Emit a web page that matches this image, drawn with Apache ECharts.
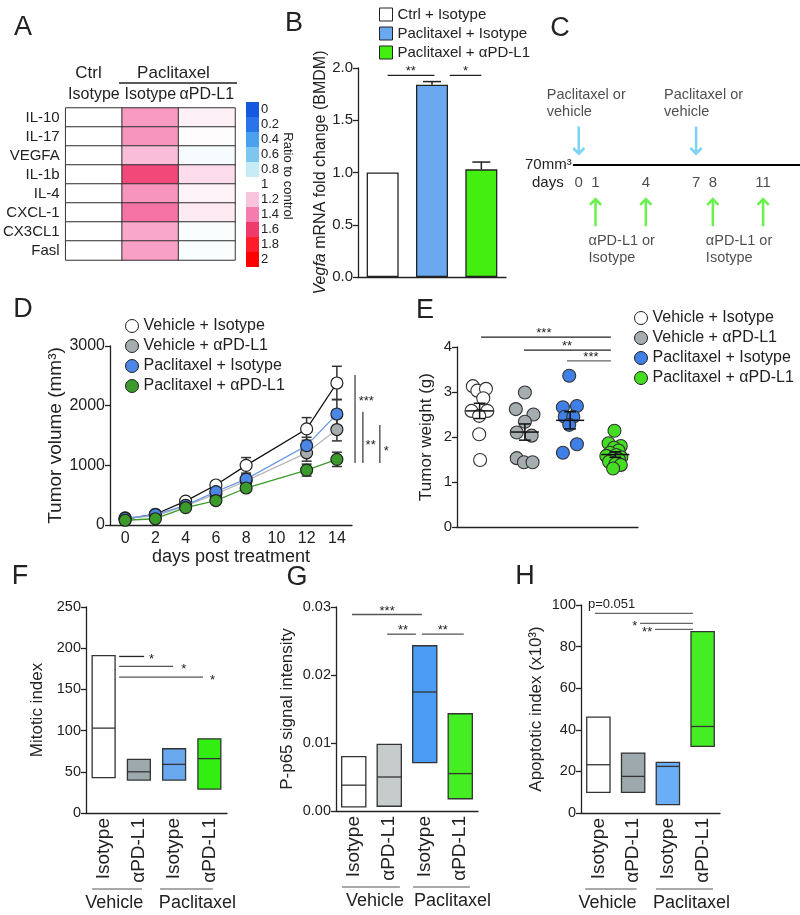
<!DOCTYPE html>
<html><head><meta charset="utf-8">
<script src="https://cdn.jsdelivr.net/npm/echarts@6/dist/echarts.min.js"></script>
<style>html,body{margin:0;padding:0;background:#fff}#c{width:800px;height:915px}</style>
</head><body><div id="c"></div>
<script>
// ================= DATA =================
// A: heatmap (ratio to control)
const heatCols = ['Ctrl + Isotype', 'Paclitaxel + Isotype', 'Paclitaxel + αPD-L1'];
const heatRows = ['IL-10', 'IL-17', 'VEGFA', 'IL-1b', 'IL-4', 'CXCL-1', 'CX3CL1', 'Fasl'];
const heatCtrlIso = [1, 1, 1, 1, 1, 1, 1, 1];
const heatPacIso = [1.32, 1.33, 1.22, 1.56, 1.33, 1.43, 1.28, 1.30];
const heatPacPD = [1.05, 1.01, 0.97, 1.12, 1.04, 1.07, 0.98, 0.98];
const ratioTicks = ['0', '0.2', '0.4', '0.6', '0.8', '1', '1.2', '1.4', '1.6', '1.8', '2'];
// B: Vegfa mRNA fold change
const bGroups = ['Ctrl + Isotype', 'Paclitaxel + Isotype', 'Paclitaxel + αPD-L1'];
const bMean = [1.00, 1.84, 1.03];
const bErr = [0, 0.03, 0.07];
// C: schedule
const treatDays = [0, 7];
const antibodyDays = [1, 4, 8, 11];
const antibodyLabelDays = [1, 8];
const dayTicks = [0, 1, 4, 7, 8, 11];
const timelineSpan = [-0.35, 13.2];
// D: tumor volume
const groupNames = ['Vehicle + Isotype', 'Vehicle + αPD-L1', 'Paclitaxel + Isotype', 'Paclitaxel + αPD-L1'];
const dDays = ['0', '2', '4', '6', '8', '10', '12', '14'];
const dVehIso = [100, 180, 400, 670, 1000, null, 1610, 2380];
const dVehIsoErr = [15, 20, 25, 40, 130, null, 190, 280];
const dVehPD = [120, 150, 320, 520, 740, null, 1210, 1600];
const dVehPDErr = [15, 20, 25, 35, 60, null, 140, 190];
const dPacIso = [110, 175, 330, 560, 770, null, 1330, 1860];
const dPacIsoErr = [15, 20, 25, 40, 70, null, 140, 245];
const dPacPD = [80, 105, 290, 410, 620, null, 920, 1100];
const dPacPDErr = [10, 15, 25, 35, 50, null, 100, 120];
// E: tumor weight, [x position in group slot, weight g]
const eVehIso = [[0.35,3.13],[0.45,3.03],[0.64,3.07],[0.58,2.86],[0.32,2.58],[0.67,2.58],[0.49,2.47],[0.49,2.06],[0.51,1.49]];
const eVehPD = [[1.50,2.99],[1.30,2.62],[1.69,2.50],[1.50,2.34],[1.32,2.10],[1.65,2.03],[1.32,1.53],[1.48,1.44],[1.67,1.44]];
const ePacIso = [[2.48,3.36],[2.34,2.66],[2.65,2.69],[2.38,2.45],[2.57,2.45],[2.48,2.27],[2.65,1.84],[2.34,1.65]];
const ePacPD = [[3.48,2.14],[3.35,1.86],[3.62,1.80],[3.47,1.76],[3.57,1.70],[3.38,1.65],[3.52,1.60],[3.30,1.58],[3.63,1.55],[3.45,1.52],[3.58,1.50],[3.36,1.45],[3.50,1.40],[3.62,1.38],[3.45,1.30]];
const eMean = [2.58, 2.11, 2.37, 1.61];
const eSem = [0.17, 0.18, 0.19, 0.06];
// F, G, H: floating bars (min, median, max)
const boxCats = ['Vehicle + Isotype', 'Vehicle + αPD-L1', 'Paclitaxel + Isotype', 'Paclitaxel + αPD-L1'];
const fMin = [43, 40, 40, 29], fMed = [103, 50, 59, 66], fMax = [191, 65, 78, 90];
const gMin = [0.0006, 0.0007, 0.0071, 0.0018], gMed = [0.0038, 0.0050, 0.0175, 0.0055], gMax = [0.0080, 0.0098, 0.0243, 0.0143];
const hMin = [9.9, 9.9, 4.0, 32], hMed = [23.2, 17.6, 22.4, 41.6], hMax = [46.1, 28.8, 24.3, 87.2];
// significance annotations (data units of each panel)
const sigH = [
  {g:1, x1:0.10, x2:1.05, y:1.93, t:'**', tx:0.57, pos:'above'},
  {g:1, x1:1.36, x2:2.00, y:1.93, t:'*', tx:1.68, pos:'above'},
  {g:4, x1:0.53, x2:3.40, y:4.22, t:'***', tx:1.92, pos:'above'},
  {g:4, x1:1.48, x2:3.40, y:3.93, t:'**', tx:2.43, pos:'above'},
  {g:4, x1:2.43, x2:3.40, y:3.69, t:'***', tx:2.96, pos:'above', c:'#666'},
  {g:5, x1:0.44, x2:1.15, y:190, t:'*', tx:1.29, pos:'right'},
  {g:5, x1:0.44, x2:1.97, y:178, t:'*', tx:2.20, pos:'right', c:'#555'},
  {g:5, x1:0.44, x2:2.82, y:165, t:'*', tx:3.02, pos:'right', c:'#555'},
  {g:6, x1:-0.05, x2:1.92, y:0.0289, t:'***', tx:0.94, pos:'above', c:'#555'},
  {g:6, x1:0.94, x2:1.75, y:0.0260, t:'**', tx:1.39, pos:'above', c:'#555'},
  {g:6, x1:1.92, x2:3.10, y:0.0260, t:'**', tx:2.51, pos:'above', c:'#555'},
  {g:7, x1:-0.10, x2:2.72, y:96, t:'p=0.051', tx:-0.30, pos:'aboveLeft', c:'#666'},
  {g:7, x1:1.20, x2:2.72, y:91.2, t:'*', tx:1.12, pos:'left', c:'#666'},
  {g:7, x1:1.63, x2:2.72, y:88.3, t:'**', tx:1.55, pos:'left', c:'#666'}
];
const sigV = [
  {g:3, x:7.60, y1:1039, y2:2514, t:'***', tx:7.72, ty:2128},
  {g:3, x:7.86, y1:1039, y2:1899, t:'**', tx:7.95, ty:1391},
  {g:3, x:8.42, y1:1039, y2:1676, t:'*', tx:8.55, ty:1290}
];

// ================= STYLE =================
const FONT = '"Liberation Sans", Arial, Helvetica, sans-serif';
const INK = '#222';
const cbColors = ['#1458e0','#2a74ea','#4aa2ee','#7cc6f0','#c6ecf8','#ffffff','#fbc4de','#f57cae','#f03a6c','#ff1c2a','#ff0000'];
const bColors = ['#ffffff', '#6aa8f0', '#44ee11'];
const dFill = ['#ffffff', '#a6adb1', '#4d87e6', '#3a9b2a'];
const dLine = ['#111111', '#b8b8b8', '#6f9de8', '#3a9b2a'];
const eFill = ['#ffffff', '#a6adb1', '#3f7fe6', '#44dd22'];
const fCol = ['#ffffff', '#9ea9ae', '#6aa8f0', '#33ee11'];
const gCol = ['#ffffff', '#c6cbcb', '#4b9cf5', '#44ee22'];
const hCol = ['#ffffff', '#9ea9ae', '#6aaef5', '#44ee22'];
const arrowPath = 'path://M4.8,0 L7.2,0 L7.2,22.6 L10.5,19.3 L12.2,21 L6,27.2 L-0.2,21 L1.5,19.3 L4.8,22.6 Z';

const chart = echarts.init(document.getElementById('c'), null, {renderer: 'canvas', width: 800, height: 915});
const plain = v => String(v);

function valAxis(gi, min, max, interval, extra) {
  return Object.assign({
    type: 'value', gridIndex: gi, min: min, max: max, interval: interval,
    axisLine: {show: true, lineStyle: {color: INK, width: 1.3}},
    axisTick: {show: true, length: 5, lineStyle: {color: INK, width: 1.3}},
    axisLabel: {color: INK, fontFamily: FONT, fontSize: 15, margin: 5, formatter: plain},
    splitLine: {show: false},
    nameLocation: 'middle', nameRotate: 90,
    nameTextStyle: {color: INK, fontFamily: FONT, fontSize: 17}
  }, extra || {});
}
function boxCatAxis(gi) {
  return {
    type: 'category', gridIndex: gi, data: boxCats,
    axisLine: {lineStyle: {color: INK, width: 1.3}},
    axisTick: {show: false},
    axisLabel: {rotate: 90, fontSize: 19, color: INK, fontFamily: FONT, margin: 5, interval: 0,
      formatter: v => v.split(' + ')[1]}
  };
}
function boxRender(colors, frac) {
  return function (params, api) {
    const i = api.value(0);
    const lo = api.coord([i, api.value(1)]);
    const md = api.coord([i, api.value(2)]);
    const hi = api.coord([i, api.value(3)]);
    const w = api.size([1, 0])[0] * frac;
    return {type: 'group', children: [
      {type: 'rect', shape: {x: lo[0] - w / 2, y: hi[1], width: w, height: lo[1] - hi[1]},
        style: {fill: colors[i], stroke: '#333', lineWidth: 1.3}},
      {type: 'line', shape: {x1: lo[0] - w / 2, y1: md[1], x2: lo[0] + w / 2, y2: md[1]},
        style: {stroke: '#333', lineWidth: 1.3}}
    ]};
  };
}
function boxData(mn, md, mx) { return mn.map((v, i) => [i, v, md[i], mx[i]]); }

// heatmap data
const heatData = [];
[heatCtrlIso, heatPacIso, heatPacPD].forEach((col, ci) => col.forEach((v, ri) => heatData.push([ci, ri, v])));

// D error data
const dSeriesVals = [dVehIso, dVehPD, dPacIso, dPacPD];
const dSeriesErr = [dVehIsoErr, dVehPDErr, dPacIsoErr, dPacPDErr];
const dErrData = [];
dSeriesVals.forEach((arr, s) => arr.forEach((v, i) => { if (v != null) dErrData.push([i, v, dSeriesErr[s][i]]); }));

const series = [];
// 0 heatmap
series.push({type: 'heatmap', xAxisIndex: 0, yAxisIndex: 0, data: heatData,
  itemStyle: {borderColor: '#333', borderWidth: 1}, emphasis: {disabled: true}, silent: true});
// 1 dummy for color legend
series.push({type: 'scatter', xAxisIndex: 0, yAxisIndex: 0, data: [], silent: true});
// B bars
bGroups.forEach((g, i) => series.push({
  type: 'bar', name: g, xAxisIndex: 1, yAxisIndex: 1, barWidth: 32, barGap: '-100%',
  data: bGroups.map((_, j) => j === i ? bMean[i] : '-'),
  itemStyle: {color: bColors[i], borderColor: INK, borderWidth: 1.3}, silent: true
}));
// B error bars
series.push({type: 'custom', xAxisIndex: 1, yAxisIndex: 1, silent: true, z: 3,
  data: bMean.map((m, i) => [i, m, bErr[i]]).filter(d => d[2] > 0),
  renderItem: (p, api) => {
    const x = api.value(0), m = api.value(1), e = api.value(2);
    const a = api.coord([x, m]), b = api.coord([x, m + e]);
    return {type: 'group', children: [
      {type: 'line', shape: {x1: a[0], y1: a[1], x2: b[0], y2: b[1]}, style: {stroke: INK, lineWidth: 1.5}},
      {type: 'line', shape: {x1: b[0] - 9, y1: b[1], x2: b[0] + 9, y2: b[1]}, style: {stroke: INK, lineWidth: 1.5}}
    ]};
  }});
// C timeline
series.push({type: 'line', xAxisIndex: 2, yAxisIndex: 2, silent: true, symbol: 'none',
  data: timelineSpan.map(d => [d, 0]), lineStyle: {color: '#000', width: 2.2}});
series.push({type: 'scatter', xAxisIndex: 2, yAxisIndex: 2, silent: true,
  data: treatDays.map(d => [d, 0.4]), symbol: arrowPath, symbolSize: [13, 29],
  itemStyle: {color: '#5bc8f0'},
  label: {show: true, position: 'top', distance: 6, align: 'left', offset: [-32, 0],
    formatter: 'Paclitaxel or\nvehicle', fontSize: 14.5, lineHeight: 17, color: INK, fontFamily: FONT}});
series.push({type: 'scatter', xAxisIndex: 2, yAxisIndex: 2, silent: true,
  data: antibodyDays.map(d => ({value: [d, -0.78], label: {show: antibodyLabelDays.indexOf(d) >= 0}})),
  symbol: arrowPath, symbolSize: [13, 29], symbolRotate: 180,
  itemStyle: {color: '#44ee22'},
  label: {position: 'bottom', distance: 6, align: 'left', offset: [-7, 0],
    formatter: 'αPD-L1 or\nIsotype', fontSize: 14.5, lineHeight: 17, color: INK, fontFamily: FONT}});
series.push({type: 'scatter', xAxisIndex: 2, yAxisIndex: 2, silent: true,
  data: dayTicks.map(d => [d, -0.3]), symbolSize: 1, itemStyle: {color: 'rgba(0,0,0,0)'},
  label: {show: true, position: 'inside', formatter: p => String(p.value[0]), fontSize: 15, color: INK, fontFamily: FONT}});
// D lines
dSeriesVals.forEach((arr, s) => series.push({
  type: 'line', name: groupNames[s], xAxisIndex: 3, yAxisIndex: 3, data: arr, connectNulls: true,
  symbol: 'circle', symbolSize: 12, z: 3 + s, silent: true,
  lineStyle: {color: dLine[s], width: 1.3},
  itemStyle: {color: dFill[s], borderColor: INK, borderWidth: 1.2}
}));
// D error bars
series.push({type: 'custom', xAxisIndex: 3, yAxisIndex: 3, silent: true, z: 2, data: dErrData,
  renderItem: (p, api) => {
    const x = api.value(0), m = api.value(1), e = api.value(2);
    const t = api.coord([x, m + e]), b = api.coord([x, m - e]);
    const cw = 5, st = {stroke: '#333', lineWidth: 1.5};
    return {type: 'group', children: [
      {type: 'line', shape: {x1: t[0], y1: t[1], x2: b[0], y2: b[1]}, style: st},
      {type: 'line', shape: {x1: t[0] - cw, y1: t[1], x2: t[0] + cw, y2: t[1]}, style: st},
      {type: 'line', shape: {x1: b[0] - cw, y1: b[1], x2: b[0] + cw, y2: b[1]}, style: st}
    ]};
  }});
// E scatter
[eVehIso, eVehPD, ePacIso, ePacPD].forEach((arr, s) => series.push({
  type: 'scatter', name: groupNames[s], xAxisIndex: 4, yAxisIndex: 4, data: arr, silent: true,
  symbolSize: 13, itemStyle: {color: eFill[s], borderColor: '#333', borderWidth: 1.1, opacity: 1}
}));
series.push({type: 'custom', xAxisIndex: 4, yAxisIndex: 4, silent: true, z: 10,
  data: eMean.map((m, i) => [i + 0.5, m, eSem[i]]),
  renderItem: (p, api) => {
    const x = api.value(0), m = api.value(1), e = api.value(2);
    const c = api.coord([x, m]), t = api.coord([x, m + e]), b = api.coord([x, m - e]);
    const hw = api.size([0.31, 0])[0], cw = api.size([0.13, 0])[0];
    const st = {stroke: '#111', lineWidth: 1.5};
    return {type: 'group', children: [
      {type: 'line', shape: {x1: c[0] - hw, y1: c[1], x2: c[0] + hw, y2: c[1]}, style: st},
      {type: 'line', shape: {x1: t[0], y1: t[1], x2: b[0], y2: b[1]}, style: st},
      {type: 'line', shape: {x1: t[0] - cw, y1: t[1], x2: t[0] + cw, y2: t[1]}, style: st},
      {type: 'line', shape: {x1: b[0] - cw, y1: b[1], x2: b[0] + cw, y2: b[1]}, style: st}
    ]};
  }});
// F, G, H boxes
series.push({type: 'custom', xAxisIndex: 5, yAxisIndex: 5, silent: true, data: boxData(fMin, fMed, fMax), renderItem: boxRender(fCol, 0.65)});
series.push({type: 'custom', xAxisIndex: 6, yAxisIndex: 6, silent: true, data: boxData(gMin, gMed, gMax), renderItem: boxRender(gCol, 0.68)});
series.push({type: 'custom', xAxisIndex: 7, yAxisIndex: 7, silent: true, data: boxData(hMin, hMed, hMax), renderItem: boxRender(hCol, 0.67)});

const legendText = {color: INK, fontFamily: FONT, fontSize: 16};
const option = {
  animation: false,
  backgroundColor: '#ffffff',
  textStyle: {fontFamily: FONT},
  grid: [
    {left: 60, top: 108, width: 175, height: 152},
    {left: 358, top: 68, width: 148, height: 209},
    {left: 528.5, top: 105, width: 272.5, height: 120},
    {left: 110, top: 346, width: 242, height: 179},
    {left: 457, top: 347, width: 181, height: 180},
    {left: 86, top: 607, width: 141, height: 206},
    {left: 336, top: 607, width: 142, height: 204},
    {left: 581, top: 605, width: 139, height: 208}
  ],
  xAxis: [
    {type: 'category', gridIndex: 0, data: heatCols, position: 'top', axisLine: {show: false}, axisTick: {show: false},
      axisLabel: {color: INK, fontFamily: FONT, fontSize: 16, margin: 5, interval: 0, formatter: v => v.split(' + ')[1]}},
    {type: 'category', gridIndex: 1, data: bGroups, axisLine: {lineStyle: {color: INK, width: 1.3}}, axisTick: {show: false}, axisLabel: {show: false}},
    {type: 'value', gridIndex: 2, min: -3, max: 13.2, show: false},
    {type: 'category', gridIndex: 3, data: dDays, boundaryGap: true,
      axisLine: {lineStyle: {color: INK, width: 1.3}},
      axisTick: {alignWithLabel: true, interval: 0, length: 5, lineStyle: {color: INK, width: 1.3}},
      axisLabel: {color: INK, fontFamily: FONT, fontSize: 16, margin: 6, interval: 0},
      name: 'days post treatment', nameLocation: 'middle', nameGap: 22,
      nameTextStyle: {color: INK, fontFamily: FONT, fontSize: 18}},
    {type: 'value', gridIndex: 4, min: 0, max: 4, axisLine: {lineStyle: {color: INK, width: 1.3}}, axisTick: {show: false}, axisLabel: {show: false}, splitLine: {show: false}},
    boxCatAxis(5), boxCatAxis(6), boxCatAxis(7)
  ],
  yAxis: [
    {type: 'category', gridIndex: 0, data: heatRows, inverse: true, axisLine: {show: false}, axisTick: {show: false},
      axisLabel: {color: INK, fontFamily: FONT, fontSize: 15, margin: 6, interval: 0}},
    valAxis(1, 0, 2, 0.5, {axisLabel: {color: INK, fontFamily: FONT, fontSize: 15, margin: 5, formatter: v => v.toFixed(1)},
      name: '{i|Vegfa} mRNA fold change (BMDM)', nameGap: 14,
      nameTextStyle: {color: INK, fontFamily: FONT, fontSize: 16, rich: {i: {fontStyle: 'italic', fontSize: 16, fontFamily: FONT, color: INK}}}}),
    {type: 'value', gridIndex: 2, min: -1, max: 1, show: false},
    valAxis(3, 0, 3000, 1000, {axisLabel: {color: INK, fontFamily: FONT, fontSize: 16, margin: 5, formatter: plain}, name: 'Tumor volume (mm³)', nameGap: 44,
      nameTextStyle: {color: INK, fontFamily: FONT, fontSize: 19}}),
    valAxis(4, 0, 4, 1, {name: 'Tumor weight (g)', nameGap: 22}),
    valAxis(5, 0, 250, 50, {axisLabel: {color: INK, fontFamily: FONT, fontSize: 14.5, margin: 5, formatter: plain}, name: 'Mitotic index', nameGap: 40}),
    valAxis(6, 0, 0.03, 0.01, {axisLabel: {color: INK, fontFamily: FONT, fontSize: 14.5, margin: 5, formatter: v => v.toFixed(2)}, name: 'P-p65 signal intensity', nameGap: 40}),
    valAxis(7, 0, 100, 20, {axisLabel: {color: INK, fontFamily: FONT, fontSize: 14.5, margin: 5, formatter: plain}, name: 'Apoptotic index (x10³)', nameGap: 36})
  ],
  visualMap: [
    {type: 'continuous', show: false, seriesIndex: 0, dimension: 2, min: 0, max: 2, inRange: {color: cbColors}},
    {type: 'piecewise', seriesIndex: 1, orient: 'vertical', inverse: true, left: 246, top: 102, padding: 0,
      itemWidth: 13, itemHeight: 15, itemGap: 0, textGap: 2, itemSymbol: 'rect', selectedMode: false,
      textStyle: {color: INK, fontFamily: FONT, fontSize: 13},
      pieces: ratioTicks.map((t, i) => ({min: i * 0.2 - 0.1, max: i * 0.2 + 0.0999, label: t, color: cbColors[i]}))}
  ],
  legend: [
    {data: bGroups.map((g, i) => ({name: g, itemStyle: {color: bColors[i], borderColor: INK, borderWidth: 1}})),
      left: 374, top: 2, orient: 'vertical', itemWidth: 13, itemHeight: 13, itemGap: 4, icon: 'rect',
      selectedMode: false, textStyle: {color: INK, fontFamily: FONT, fontSize: 15}},
    {data: groupNames.map((g, i) => ({name: g, itemStyle: {color: dFill[i], borderColor: INK, borderWidth: 1}})),
      left: 120, top: 313, orient: 'vertical', itemWidth: 13, itemHeight: 13, itemGap: 4, icon: 'circle',
      selectedMode: false, textStyle: legendText},
    {data: groupNames.map((g, i) => ({name: g, itemStyle: {color: eFill[i], borderColor: INK, borderWidth: 1}})),
      left: 629, top: 305, orient: 'vertical', itemWidth: 13, itemHeight: 13, itemGap: 4, icon: 'circle',
      selectedMode: false, textStyle: legendText}
  ],
  series: series
};
chart.setOption(option);

// ================= ANNOTATIONS (positioned through the axes) =================
function P(g, x, y) {
  const x0 = Math.floor(x), f = x - x0;
  const a = chart.convertToPixel({gridIndex: g}, [x0, y]);
  if (f === 0) return a;
  const b = chart.convertToPixel({gridIndex: g}, [x0 + 1, y]);
  return [a[0] + (b[0] - a[0]) * f, a[1]];
}
const G = [];
function txt(x, y, s, o) {
  G.push({type: 'text', x: x, y: y, silent: true, style: Object.assign({text: s, fill: INK, font: '15px ' + FONT, textAlign: 'center', textVerticalAlign: 'middle'}, o || {})});
}
function ln(x1, y1, x2, y2, c, w) {
  G.push({type: 'line', silent: true, shape: {x1: x1, y1: y1, x2: x2, y2: y2}, style: {stroke: c || INK, lineWidth: w || 1.3}});
}
// panel letters
[['A', 23, 28], ['B', 294, 24], ['C', 560, 29], ['D', 23, 310], ['E', 425, 311], ['F', 20, 577], ['G', 297, 578], ['H', 525, 577]]
  .forEach(l => txt(l[1], l[2], l[0], {font: '27px ' + FONT}));
// A headers
txt(88.5, 73, 'Ctrl', {font: '17px ' + FONT});
txt(173.5, 73, 'Paclitaxel', {font: '17px ' + FONT});
ln(119, 83, 237, 83, INK, 1.3);
G.push({type: 'text', x: 288, y: 176, rotation: -Math.PI / 2, silent: true,
  style: {text: 'Ratio to control', fill: INK, font: '13px ' + FONT, textAlign: 'center', textVerticalAlign: 'middle'}});
// C labels
txt(525, 165, '70mm³', {textAlign: 'left', font: '15px ' + FONT});
txt(532, 183, 'days', {textAlign: 'left', font: '15px ' + FONT});
// horizontal significance bars
sigH.forEach(s => {
  const a = P(s.g, s.x1, s.y), b = P(s.g, s.x2, s.y), t = P(s.g, s.tx, s.y);
  const c = s.c || INK;
  ln(a[0], a[1], b[0], b[1], c, 1.3);
  if (s.pos === 'above') txt(t[0], a[1] + 3, s.t, {font: '13px ' + FONT, textVerticalAlign: 'bottom'});
  else if (s.pos === 'right') txt(t[0], a[1] + 3, s.t, {font: '13px ' + FONT, textAlign: 'left'});
  else if (s.pos === 'left') txt(t[0], a[1] + 3, s.t, {font: '13px ' + FONT, textAlign: 'right'});
  else txt(t[0], a[1] - 2, s.t, {font: '13px ' + FONT, textAlign: 'left', textVerticalAlign: 'bottom'});
});
// vertical significance bars (D)
sigV.forEach(s => {
  const a = P(s.g, s.x, s.y1), b = P(s.g, s.x, s.y2), t = P(s.g, s.tx, s.ty);
  ln(a[0], a[1], b[0], b[1], '#444', 1.3);
  txt(t[0], t[1] + 3, s.t, {font: '13px ' + FONT, textAlign: 'left'});
});
// group brackets under F, G, H
[[5, [-0.33, 1.09], [1.6, 3.1], 0.3, 2.66], [6, [-0.33, 1.3], [1.67, 3.27], 0.6, 2.78], [7, [-0.38, 1.1], [1.66, 3.3], 0.26, 2.68]]
  .forEach(q => {
    const g = q[0];
    const base = P(g, 0, 0)[1];
    [q[1], q[2]].forEach(r => {
      const a = P(g, r[0], 0), b = P(g, r[1], 0);
      ln(a[0], base + 76, b[0], base + 76, '#555', 1.2);
    });
    txt(P(g, q[3], 0)[0], base + 90, 'Vehicle', {font: '18px ' + FONT});
    txt(P(g, q[4], 0)[0], base + 90, 'Paclitaxel', {font: '18px ' + FONT});
  });
chart.setOption({graphic: G});
</script>
</body></html>
